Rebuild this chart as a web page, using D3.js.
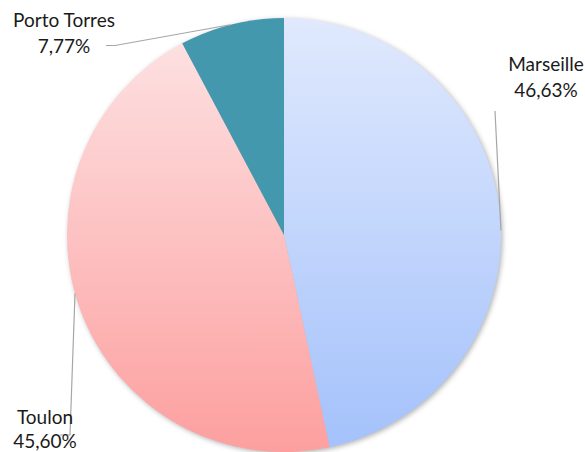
<!DOCTYPE html>
<html>
<head>
<meta charset="utf-8">
<script src="https://cdn.jsdelivr.net/npm/d3@7"></script>
<style>
  body { margin: 0; background: #fff; }
  text { font-family: Lato, "Open Sans", sans-serif; fill: #1a1a1a; }
</style>
</head>
<body>
<svg id="chart" width="585" height="452"></svg>
<script>
const labels = ["Marseille", "Toulon", "Porto Torres"];
const shares = [46.63, 45.60, 7.77];
const pctText = ["46,63%", "45,60%", "7,77%"];

const width = 585, height = 452;
const cx = 284, cy = 235, radius = 217;

const svg = d3.select("#chart");
const defs = svg.append("defs");

// vertical gradients like the spreadsheet fill (coords in the pie group's space)
const grads = [
  { id: "gMarseille", top: "#e0e9fd", bottom: "#a3c1fb" },
  { id: "gToulon", top: "#fde4e5", bottom: "#fd9f9f" },
  { id: "gPorto", top: "#4498ae", bottom: "#4498ae" }
];
grads.forEach(g => {
  const lg = defs.append("linearGradient")
    .attr("id", g.id)
    .attr("gradientUnits", "userSpaceOnUse")
    .attr("x1", 0).attr("y1", -radius)
    .attr("x2", 0).attr("y2", radius);
  lg.append("stop").attr("offset", "0%").attr("stop-color", g.top);
  lg.append("stop").attr("offset", "100%").attr("stop-color", g.bottom);
});

const shadow = defs.append("filter").attr("id", "shadow")
  .attr("color-interpolation-filters", "sRGB")
  .attr("x", "-10%").attr("y", "-10%").attr("width", "120%").attr("height", "120%");
shadow.append("feDropShadow")
  .attr("dx", 1.5).attr("dy", 1.5).attr("stdDeviation", 2.5)
  .attr("flood-color", "#000").attr("flood-opacity", 0.3);

const pie = d3.pie().sort(null).value(d => d)(shares);
const arc = d3.arc().innerRadius(0).outerRadius(radius);

const g = svg.append("g").attr("transform", `translate(${cx},${cy})`);

g.append("g").attr("filter", "url(#shadow)")
  .selectAll("path")
  .data(pie)
  .join("path")
  .attr("d", arc)
  .attr("fill", (d, i) => `url(#${grads[i].id})`);

// leader lines (start on arc, bend near label)
const leaders = [
  { bend: [495, 111], end: null },
  { bend: [70, 435], end: [60, 435] },
  { bend: [115, 45.5], end: [106, 45.5] }
];
const anchorAngle = [1.55, 4.44, 2 * Math.PI - 0.25];
pie.forEach((d, i) => {
  const a = anchorAngle[i];
  const p = [cx + Math.sin(a) * radius, cy - Math.cos(a) * radius];
  const pts = [p, leaders[i].bend];
  if (leaders[i].end) pts.push(leaders[i].end);
  svg.append("path")
    .attr("d", d3.line()(pts))
    .attr("fill", "none")
    .attr("stroke", "#a6a6a6")
    .attr("stroke-width", 1.2);
});

const labelPos = [
  { x: 546, y1: 71, y2: 97 },
  { x: 45, y1: 424, y2: 448 },
  { x: 64, y1: 27, y2: 53 }
];
labels.forEach((name, i) => {
  const t = svg.append("text")
    .attr("text-anchor", "middle")
    .style("font-size", "19px");
  t.append("tspan").attr("x", labelPos[i].x).attr("y", labelPos[i].y1).text(name);
  t.append("tspan").attr("x", labelPos[i].x).attr("y", labelPos[i].y2).text(pctText[i]);
});
</script>
</body>
</html>
